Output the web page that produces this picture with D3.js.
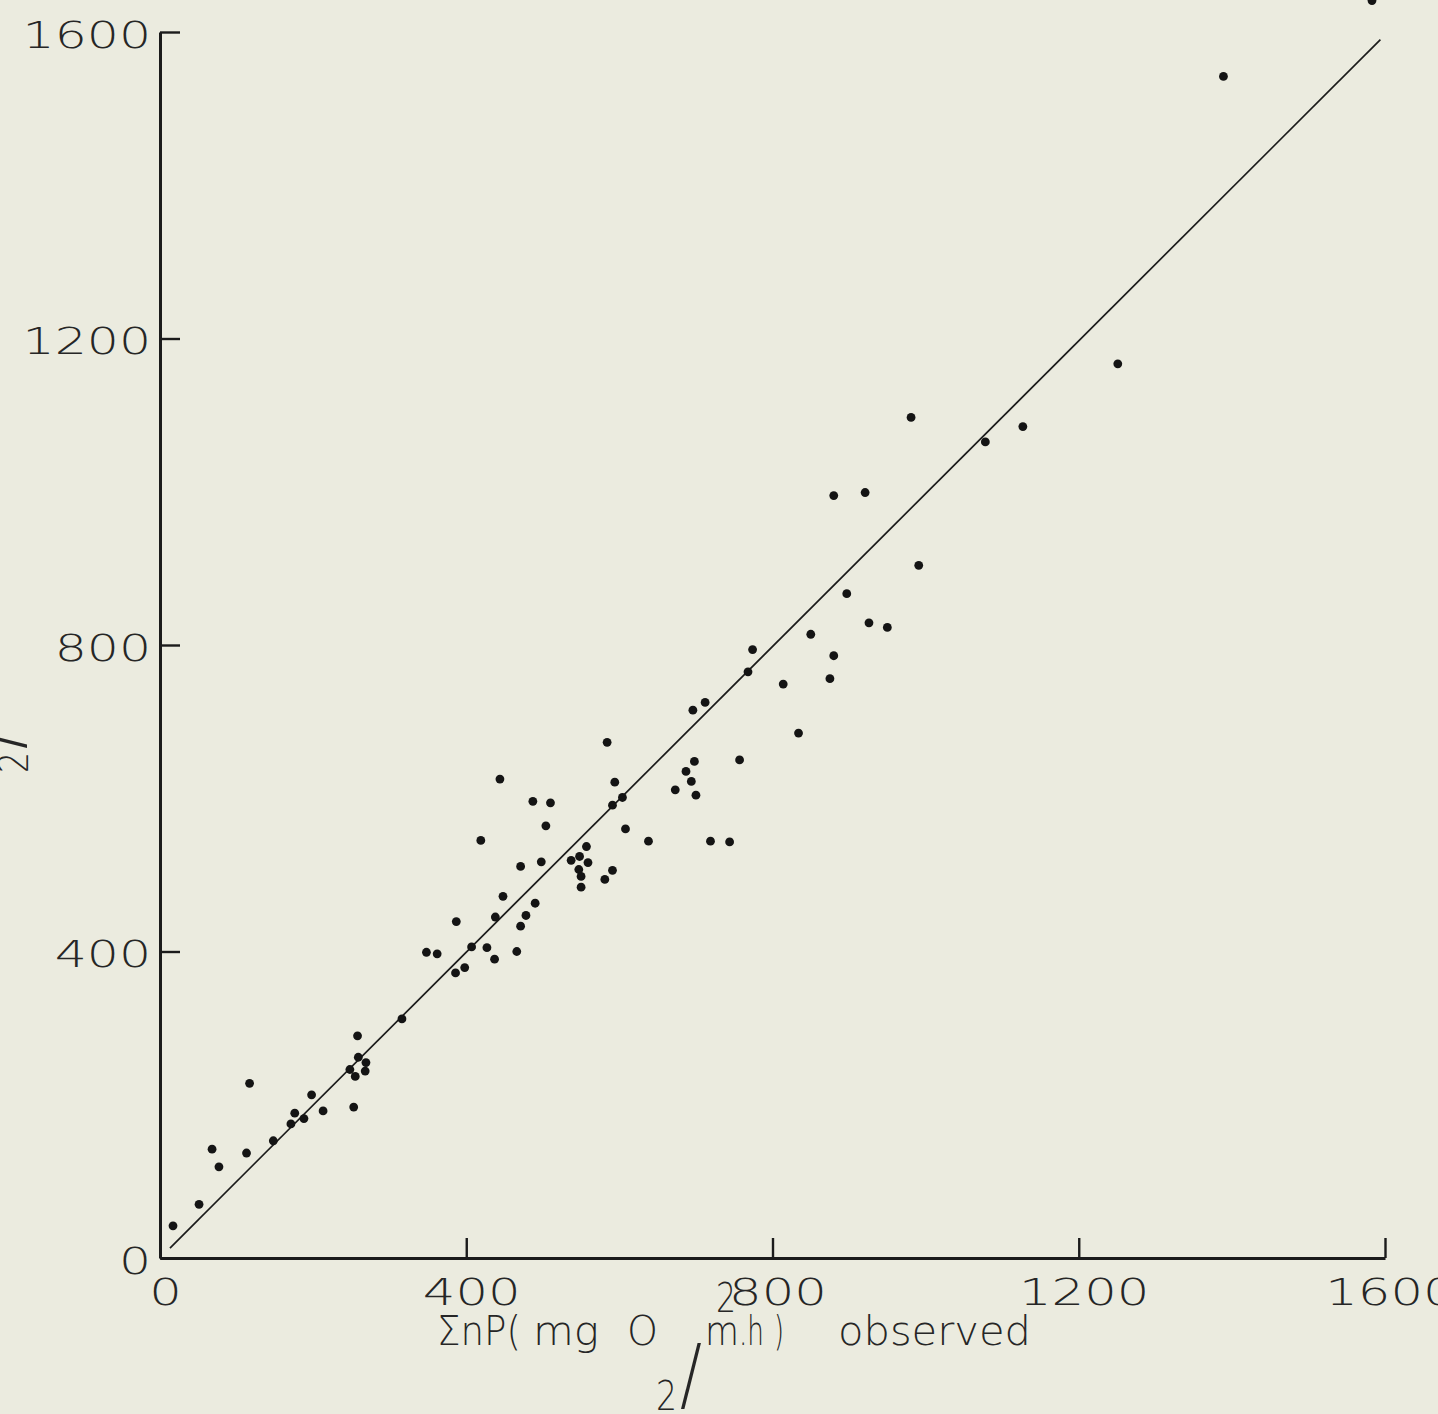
<!DOCTYPE html>
<html>
<head>
<meta charset="utf-8">
<script src="https://cdn.jsdelivr.net/npm/d3@7"></script>
<style>
  html, body { margin: 0; padding: 0; background: #ebebdf; overflow: hidden; }
  svg { display: block; }
  text { -webkit-font-smoothing: antialiased; }
</style>
</head>
<body>
<svg id="chart" width="1438" height="1414"></svg>
<script>
// Summed production, observed (x) against calculated (y), mg O2 / m² h
const observed = [
  17, 51, 68, 77, 117, 113, 148, 171, 176, 188,
  198, 213, 253, 248, 255, 258, 259, 269, 268, 316,
  584, 444, 594, 673, 604, 591, 487, 510, 504, 419,
  608, 638, 557, 548, 537, 559, 471, 498, 547, 550,
  550, 591, 581, 448, 490, 438, 478, 471, 387, 348,
  362, 407, 427, 466, 437, 386, 398, 850, 774, 768,
  814, 696, 712, 834, 698, 757, 687, 694, 700, 719,
  744, 981, 1127, 1078, 880, 921, 991, 897, 926, 950,
  880, 875, 1389, 1251, 1583
];
const calculated = [
  42, 70, 142, 119, 228, 137, 153, 175, 189, 182,
  213, 192, 197, 246, 237, 290, 262, 255, 244, 312,
  673, 625, 621, 611, 601, 591, 596, 594, 564, 545,
  560, 544, 537, 524, 519, 516, 511, 517, 507, 498,
  484, 506, 494, 472, 463, 445, 447, 433, 439, 399,
  397, 406, 405, 400, 390, 372, 379, 814, 794, 765,
  749, 715, 725, 685, 648, 650, 635, 622, 604, 544,
  543, 1097, 1085, 1065, 995, 999, 904, 867, 829, 823,
  786, 756, 1542, 1167, 1641
];

// 1:1 line
const fitObserved = [13, 1594];
const fitCalculated = [13, 1590];

// Axis ticks
const tickValues = [0, 400, 800, 1200, 1600];
const tickLabels = ["0", "400", "800", "1200", "1600"];

// Axis title words
const xTitleWord = "observed";
const yTitleWord = "calculated";

const ink = "#1b1b1b";
const textInk = "#262626";
const fontFamily = "'DejaVu Sans', 'Liberation Sans', sans-serif";

const svg = d3.select("#chart");

const x = d3.scaleLinear().domain([0, 1600]).range([160, 1385]);
const y = d3.scaleLinear().domain([0, 1600]).range([1258, 32]);

const labelOf = d => tickLabels[tickValues.indexOf(d)];

// x axis, ticks pointing inward (upward)
const gx = svg.append("g")
  .attr("transform", `translate(0,${y(0)})`)
  .call(d3.axisBottom(x)
    .tickValues(tickValues)
    .tickFormat(labelOf)
    .tickSizeInner(-20)
    .tickSizeOuter(0)
    .tickPadding(20));

// y axis, ticks pointing inward (rightward)
const gy = svg.append("g")
  .attr("transform", `translate(${x(0)},0)`)
  .call(d3.axisLeft(y)
    .tickValues(tickValues)
    .tickFormat(labelOf)
    .tickSizeInner(-20)
    .tickSizeOuter(0)
    .tickPadding(6.7));

[gx, gy].forEach(g => {
  g.attr("font-family", null).attr("font-size", null);
  g.select(".domain").attr("stroke", ink).attr("stroke-width", 3);
  g.selectAll(".tick line").attr("stroke", ink).attr("stroke-width", 2.4);
  g.selectAll(".tick text")
    .attr("fill", textInk)
    .style("font-family", fontFamily)
    .style("font-weight", 200)
    .style("font-size", "38px");
});
gx.selectAll(".tick text").attr("transform", "translate(5,0) scale(1.35,1)");
gy.selectAll(".tick text").attr("dy", "0.4em").attr("transform", "scale(1.33,1)");

// 1:1 line
svg.append("path")
  .datum(fitObserved.map((v, i) => [v, fitCalculated[i]]))
  .attr("fill", "none")
  .attr("stroke", ink)
  .attr("stroke-width", 1.7)
  .attr("d", d3.line().x(d => x(d[0])).y(d => y(d[1])));

// data points
svg.append("g")
  .selectAll("circle")
  .data(observed.map((v, i) => [v, calculated[i]]))
  .join("circle")
  .attr("cx", d => x(d[0]))
  .attr("cy", d => y(d[1]))
  .attr("r", 4.4)
  .attr("fill", "#141414");

// Axis title: ΣnP(mg O₂/m²h) <word>, laid out piece by piece
function drawTitle(g, word) {
  const pieces = [
    { t: "\u03A3nP(", x: 0,   y: 0,   w: 84,  sy: 1 },
    { t: "mg",        x: 96,  y: 0,   w: 66,  sy: 1 },
    { t: "O",         x: 190, y: 0,   w: 31,  sy: 1 },
    { t: "2",         x: 219, y: 65,  w: 21,  sy: 1 },
    { t: "/",         x: 243, y: 57,  w: 22,  sy: 2 },
    { t: "m",         x: 268, y: 0,   w: 34,  sy: 1 },
    { t: "2",         x: 279, y: -33, w: 20,  sy: 1 },
    { t: ".h",        x: 302, y: 0,   w: 25,  sy: 1 },
    { t: ")",         x: 337, y: 0,   w: 10,  sy: 1 },
    { t: word,        x: 401, y: 0,   w: 193, sy: 1 }
  ];
  g.selectAll("text")
    .data(pieces)
    .join("text")
    .attr("transform", d => `translate(${d.x},${d.y}) scale(1,${d.sy})`)
    .attr("textLength", d => d.w)
    .attr("lengthAdjust", "spacingAndGlyphs")
    .attr("fill", textInk)
    .style("font-family", fontFamily)
    .style("font-weight", 200)
    .style("font-size", "40px")
    .text(d => d.t);
}

drawTitle(svg.append("g").attr("transform", "translate(437,1345)"), xTitleWord);
drawTitle(svg.append("g").attr("transform", "translate(-37,992) rotate(-90)"), yTitleWord);
</script>
</body>
</html>
